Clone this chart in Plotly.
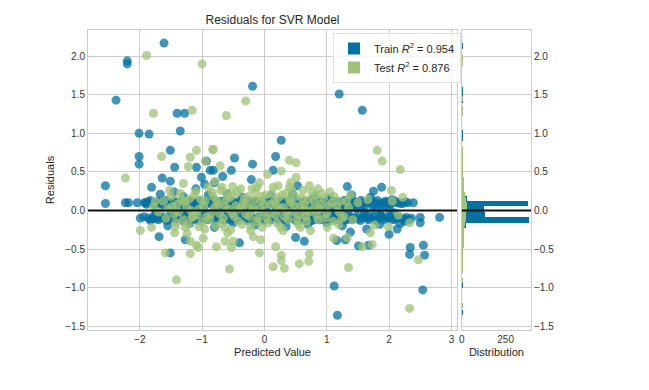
import numpy as np
import plotly.graph_objects as go

# ---------------- data ----------------
train_outliers = [
    (-1.61, 2.17), (-2.20, 1.94), (-2.20, 1.90), (-2.38, 1.43), (-1.40, 1.26), (-1.28, 1.26),
    (-1.35, 1.03), (-2.01, 1.00), (-1.85, 0.99), (-1.51, 0.78), (-2.01, 0.70), (-2.01, 0.60),
    (-1.44, 0.56), (-1.09, 0.56), (-0.93, 0.64), (-0.87, 0.52), (-2.55, 0.32), (-1.64, 0.42),
    (-1.51, 0.38), (-1.81, 0.30), (-1.01, 0.43), (-0.96, 0.34), (-2.55, 0.09), (-2.23, 0.10),
    (-2.18, 0.10), (-2.04, 0.10), (-1.91, 0.10), (-1.69, -0.34), (-1.51, -0.55), (-1.27, -0.38),
    (-0.19, 1.61), (0.27, 0.91), (-0.48, 0.68), (-0.19, 0.60), (0.18, 0.70), (0.14, 0.52),
    (-0.53, 0.52), (-0.82, 0.52), (-0.67, 0.44), (-0.21, 0.40), (0.53, 0.32), (-0.80, 0.36),
    (1.20, 1.51), (1.57, 1.30), (1.33, 0.31), (1.88, 0.30), (1.75, 0.25), (2.39, 0.10),
    (2.81, -0.09), (2.50, -0.09), (2.50, -0.16), (2.18, -0.17), (2.13, -0.24), (2.00, -0.31),
    (1.64, -0.24), (1.38, -0.28), (1.16, -0.39), (1.30, -0.38), (1.51, -0.46), (1.67, -0.45),
    (2.34, -0.48), (2.55, -0.45), (2.33, -0.57), (2.57, -0.58), (1.12, -0.98), (2.54, -1.03),
    (1.17, -1.36), (2.02, 0.10), (0.64, -0.40), (0.50, -0.35), (-0.40, -0.42),
    (-1.67, 0.21), (-1.45, 0.24), (-1.30, 0.18), (-1.10, 0.28), (-0.90, 0.20), (-0.60, 0.22),
    (-0.35, 0.17), (0.10, 0.19), (0.45, 0.22), (0.80, 0.18), (1.05, 0.16), (1.40, 0.20),
    (1.70, 0.17), (2.05, 0.14), (-1.55, -0.20), (-1.20, -0.17), (-0.80, -0.22), (-0.50, -0.16),
    (-0.15, -0.19), (0.35, -0.21), (0.70, -0.18), (1.00, -0.16), (1.25, -0.20), (1.85, -0.18),
    (2.25, -0.14),
]

train_band_upper = [
    (-1.92, 0.10), (-1.86, 0.11), (-1.80, 0.10), (-1.73, 0.09), (-1.67, 0.10), (-1.60, 0.12),
    (-1.54, 0.10), (-1.47, 0.10), (-1.41, 0.09), (-1.34, 0.11), (-1.28, 0.10), (-1.21, 0.10),
    (-1.15, 0.12), (-1.08, 0.09), (-1.02, 0.10), (-0.95, 0.11), (-0.89, 0.10), (-0.82, 0.10),
    (-0.76, 0.09), (-0.69, 0.12), (-0.63, 0.10), (-0.56, 0.10), (-0.50, 0.11), (-0.43, 0.09),
    (-0.37, 0.10), (-0.30, 0.10), (-0.24, 0.12), (-0.17, 0.10), (-0.11, 0.09), (-0.04, 0.10),
    (0.02, 0.11), (0.09, 0.10), (0.15, 0.10), (0.22, 0.09), (0.28, 0.12), (0.35, 0.10),
    (0.41, 0.10), (0.48, 0.11), (0.54, 0.09), (0.61, 0.10), (0.67, 0.10), (0.74, 0.12),
    (0.80, 0.10), (0.87, 0.09), (0.93, 0.10), (1.00, 0.11), (1.06, 0.10), (1.13, 0.10),
    (1.19, 0.09), (1.26, 0.12), (1.32, 0.10), (1.39, 0.10), (1.45, 0.11), (1.52, 0.09),
    (1.58, 0.10), (1.65, 0.10), (1.71, 0.12), (1.78, 0.10), (1.84, 0.09), (1.91, 0.10),
    (1.98, 0.11), (2.06, 0.10), (2.14, 0.10), (2.22, 0.09), (2.30, 0.10),
]

train_band_upper2 = [
    (-1.89, 0.08), (-1.83, 0.13), (-1.76, 0.07), (-1.70, 0.12), (-1.63, 0.08), (-1.57, 0.13),
    (-1.50, 0.07), (-1.44, 0.12), (-1.37, 0.08), (-1.31, 0.13), (-1.24, 0.07), (-1.18, 0.12),
    (-1.11, 0.08), (-1.05, 0.13), (-0.98, 0.07), (-0.92, 0.12), (-0.85, 0.08), (-0.79, 0.13),
    (-0.72, 0.07), (-0.66, 0.12), (-0.59, 0.08), (-0.53, 0.13), (-0.46, 0.07), (-0.40, 0.12),
    (-0.33, 0.08), (-0.27, 0.13), (-0.20, 0.07), (-0.14, 0.12), (-0.07, 0.08), (-0.01, 0.13),
    (0.05, 0.07), (0.12, 0.12), (0.18, 0.08), (0.25, 0.13), (0.31, 0.07), (0.38, 0.12),
    (0.44, 0.08), (0.51, 0.13), (0.57, 0.07), (0.64, 0.12), (0.70, 0.08), (0.77, 0.13),
    (0.83, 0.07), (0.90, 0.12), (0.96, 0.08), (1.03, 0.13), (1.09, 0.07), (1.16, 0.12),
    (1.22, 0.08), (1.29, 0.13), (1.35, 0.07), (1.42, 0.12), (1.48, 0.08), (1.55, 0.13),
    (1.61, 0.07), (1.68, 0.12), (1.74, 0.08), (1.81, 0.13), (1.87, 0.07), (1.94, 0.12),
    (2.02, 0.08), (2.10, 0.12), (2.18, 0.09), (2.26, 0.11),
]

train_band_lower = [
    (-1.99, -0.10), (-1.86, -0.10), (-1.80, -0.11), (-1.74, -0.10), (-1.67, -0.09), (-1.61, -0.10),
    (-1.54, -0.12), (-1.48, -0.10), (-1.41, -0.10), (-1.35, -0.09), (-1.28, -0.11), (-1.22, -0.10),
    (-1.15, -0.10), (-1.09, -0.12), (-1.02, -0.09), (-0.96, -0.10), (-0.89, -0.11), (-0.83, -0.10),
    (-0.76, -0.10), (-0.70, -0.09), (-0.63, -0.12), (-0.57, -0.10), (-0.50, -0.10), (-0.44, -0.11),
    (-0.37, -0.09), (-0.31, -0.10), (-0.24, -0.10), (-0.18, -0.12), (-0.11, -0.10), (-0.05, -0.09),
    (0.02, -0.10), (0.08, -0.11), (0.15, -0.10), (0.21, -0.10), (0.28, -0.09), (0.34, -0.12),
    (0.41, -0.10), (0.47, -0.10), (0.54, -0.11), (0.60, -0.09), (0.67, -0.10), (0.73, -0.10),
    (0.80, -0.12), (0.86, -0.10), (0.93, -0.09), (0.99, -0.10), (1.06, -0.11), (1.12, -0.10),
    (1.19, -0.10), (1.25, -0.09), (1.32, -0.12), (1.38, -0.10), (1.45, -0.10), (1.51, -0.11),
    (1.58, -0.09), (1.64, -0.10), (1.71, -0.10), (1.77, -0.12), (1.84, -0.10), (1.90, -0.09),
    (1.97, -0.10), (2.04, -0.11), (2.12, -0.10), (2.20, -0.10), (2.28, -0.09), (2.36, -0.10),
]

train_band_lower2 = [
    (-1.93, -0.08), (-1.83, -0.13), (-1.77, -0.07), (-1.70, -0.12), (-1.64, -0.08), (-1.57, -0.13),
    (-1.51, -0.07), (-1.44, -0.12), (-1.38, -0.08), (-1.31, -0.13), (-1.25, -0.07), (-1.18, -0.12),
    (-1.12, -0.08), (-1.05, -0.13), (-0.99, -0.07), (-0.92, -0.12), (-0.86, -0.08), (-0.79, -0.13),
    (-0.73, -0.07), (-0.66, -0.12), (-0.60, -0.08), (-0.53, -0.13), (-0.47, -0.07), (-0.40, -0.12),
    (-0.34, -0.08), (-0.27, -0.13), (-0.21, -0.07), (-0.14, -0.12), (-0.08, -0.08), (-0.01, -0.13),
    (0.05, -0.07), (0.11, -0.12), (0.18, -0.08), (0.24, -0.13), (0.31, -0.07), (0.37, -0.12),
    (0.44, -0.08), (0.50, -0.13), (0.57, -0.07), (0.63, -0.12), (0.70, -0.08), (0.76, -0.13),
    (0.83, -0.07), (0.89, -0.12), (0.96, -0.08), (1.02, -0.13), (1.09, -0.07), (1.15, -0.12),
    (1.22, -0.08), (1.28, -0.13), (1.35, -0.07), (1.41, -0.12), (1.48, -0.08), (1.54, -0.13),
    (1.61, -0.07), (1.67, -0.12), (1.74, -0.08), (1.80, -0.13), (1.87, -0.07), (1.93, -0.12),
    (2.00, -0.08), (2.08, -0.12), (2.16, -0.09), (2.24, -0.11), (2.32, -0.12),
]

train_band_middle = [
    (-1.62, 0.04), (-1.50, -0.03), (-1.38, 0.02), (-1.22, -0.05), (-1.10, 0.05), (-0.97, 0.00),
    (-0.86, -0.04), (-0.73, 0.03), (-0.60, -0.02), (-0.48, 0.05), (-0.36, -0.05), (-0.22, 0.01),
    (-0.10, 0.04), (0.05, -0.03), (0.18, 0.05), (0.30, -0.01), (0.44, 0.03), (0.57, -0.05),
    (0.70, 0.02), (0.83, 0.04), (0.96, -0.03), (1.09, 0.00), (1.22, 0.05), (1.35, -0.04),
    (1.48, 0.02), (1.60, -0.02), (1.74, 0.04), (1.87, -0.05), (2.00, 0.01), (-1.44, -0.06),
    (-1.16, 0.06), (-0.92, -0.06), (-0.66, 0.06), (-0.41, -0.06), (-0.16, 0.06), (0.11, -0.06),
    (0.37, 0.06), (0.63, -0.06), (0.89, 0.06), (1.15, -0.06), (1.41, 0.06), (1.67, -0.06),
    (1.93, 0.06), (-1.74, -0.03), (-1.30, 0.00), (-1.03, 0.03), (-0.79, -0.01), (-0.54, 0.02),
    (-0.29, -0.02), (-0.03, 0.00), (0.24, 0.02), (0.50, 0.00), (0.76, -0.02), (1.02, 0.03),
    (1.28, -0.01), (1.54, 0.03), (1.80, 0.00), (2.08, -0.03),
]

test_outliers = [
    (-1.89, 2.01), (-1.00, 1.90), (-1.78, 1.26), (-1.16, 1.30), (-1.09, 0.78), (-1.19, 0.69),
    (-1.65, 0.70), (-1.22, 0.57), (-0.95, 0.64), (-0.83, 0.79), (-2.23, 0.42), (-1.30, 0.35),
    (-0.30, 1.42), (-0.61, 1.23), (-0.82, 0.79), (-0.71, 0.58), (0.40, 0.65), (0.51, 0.62),
    (0.27, 0.51), (0.05, 0.47), (0.51, 0.43), (-0.08, 0.36), (0.22, 0.32), (0.72, 0.32),
    (0.42, 0.36), (-0.51, 0.31), (-0.79, 0.38), (1.81, 0.78), (1.89, 0.64), (2.18, 0.53),
    (2.04, 0.26), (2.22, 0.17), (2.33, -0.16), (1.99, -0.21), (1.77, -0.19), (1.70, -0.29),
    (1.33, -0.35), (1.73, -0.44), (1.57, -0.47), (2.47, -0.64), (1.35, -0.74), (2.33, -1.27),
    (1.19, -0.18), (-0.77, -0.47), (-0.56, -0.76), (-0.08, -0.55), (0.14, -0.73), (0.32, -0.75),
    (0.27, -0.65), (0.27, -0.58), (0.56, -0.69), (0.72, -0.56), (0.71, -0.66), (0.18, -0.47),
    (-0.06, -0.38), (-0.22, -0.26), (-0.18, -0.34), (-0.53, -0.48), (-0.63, -0.40), (-0.50, -0.40),
    (-0.59, -0.29), (1.01, -0.22), (1.11, -0.36), (-1.99, -0.26), (-1.81, -0.22), (-1.59, -0.55),
    (-1.41, -0.90), (-1.19, -0.56), (-1.44, -0.29), (-1.43, -0.21), (-1.27, -0.22), (-1.24, -0.30),
    (-1.19, -0.40), (-1.09, -0.45), (-1.06, -0.48), (-0.98, -0.36), (-1.16, -0.09), (-1.05, -0.21),
]

test_band = [
    (-1.78, 0.05), (-1.70, -0.02), (-1.75, 0.12),
    (-1.62, 0.12), (-1.55, 0.02), (-1.50, 0.18), (-1.45, -0.05), (-1.40, 0.08), (-1.35, 0.22),
    (-1.30, -0.12), (-1.25, 0.05), (-1.20, 0.15), (-1.15, -0.08), (-1.10, 0.25), (-1.05, 0.02),
    (-1.00, -0.15), (-0.95, 0.12), (-0.90, 0.30), (-0.86, -0.05), (-0.82, 0.18), (-0.78, -0.20),
    (-0.74, 0.08), (-0.70, 0.26), (-0.66, -0.10), (-0.62, 0.14), (-0.58, 0.02), (-0.54, -0.25),
    (-0.50, 0.20), (-0.46, 0.06), (-0.42, -0.14), (-0.38, 0.28), (-0.34, 0.10), (-0.30, -0.05),
    (-0.26, 0.18), (-0.22, -0.20), (-0.18, 0.04), (-0.14, 0.24), (-0.10, -0.10), (-0.06, 0.12),
    (-0.02, -0.02), (0.02, 0.20), (0.06, -0.16), (0.10, 0.08), (0.14, 0.30), (0.18, -0.06),
    (0.22, 0.16), (0.26, -0.22), (0.30, 0.04), (0.34, 0.22), (0.38, -0.12), (0.42, 0.10),
    (0.46, -0.02), (0.50, 0.18), (0.54, -0.18), (0.58, 0.06), (0.62, 0.26), (0.66, -0.08),
    (0.70, 0.14), (0.74, -0.26), (0.78, 0.02), (0.82, 0.20), (0.86, -0.12), (0.90, 0.08),
    (0.95, 0.16), (1.00, -0.04), (1.05, 0.24), (1.10, -0.14), (1.16, 0.06), (1.22, 0.12),
    (1.28, -0.08), (1.35, 0.04), (1.42, -0.12), (1.50, 0.10), (1.66, 0.14),
    (2.05, 0.12), (2.15, -0.06),
    (-1.58, -0.10), (-1.48, 0.05), (-1.38, -0.02), (-1.28, 0.12), (-1.18, 0.00), (-1.08, -0.06),
    (-0.98, 0.06), (-0.88, -0.12), (-0.80, 0.04), (-0.72, -0.04), (-0.64, 0.06), (-0.56, 0.16),
    (-0.48, -0.08), (-0.40, 0.02), (-0.32, 0.16), (-0.24, -0.08), (-0.16, 0.14), (-0.08, 0.02),
    (0.00, 0.08), (0.08, -0.04), (0.16, 0.12), (0.24, 0.02), (0.32, -0.08), (0.40, 0.14),
    (0.48, 0.06), (0.56, -0.06), (0.64, 0.08), (0.72, -0.02), (0.80, 0.12), (0.88, 0.02),
    (0.97, -0.10), (1.08, 0.10), (1.20, -0.02), (1.32, 0.12),
    (-1.52, 0.26), (-1.42, -0.16), (-1.33, 0.14), (-1.22, -0.18), (-1.12, 0.20), (-1.02, 0.14),
    (-0.93, -0.08), (-0.84, 0.24), (-0.76, 0.12), (-0.68, -0.16), (-0.60, 0.22), (-0.52, -0.04),
    (-0.44, 0.24), (-0.36, -0.18), (-0.28, 0.08), (-0.20, 0.28), (-0.12, -0.14), (-0.04, 0.18),
    (0.04, -0.10), (0.12, 0.22), (0.20, -0.16), (0.28, 0.20), (0.36, -0.02), (0.44, 0.26),
    (0.52, -0.12), (0.60, 0.16), (0.68, -0.14), (0.76, 0.24), (0.84, -0.06), (0.92, 0.22),
    (1.02, 0.06), (1.12, 0.18), (1.24, -0.10), (1.38, 0.20),
    (-0.96, -0.24), (-0.64, -0.22), (-0.36, 0.04), (-0.04, -0.22), (0.30, -0.26),
    (0.58, -0.22), (0.86, 0.28), (-0.20, 0.00), (0.20, 0.06), (0.66, 0.00), (-0.68, 0.30),
    (-0.12, 0.30), (0.40, 0.30),
]

# histogram (50 bins each, counts)
train_hist_range = [-1.36, 2.17]
train_hist_counts = [1, 0, 0, 0, 0, 3, 0, 0, 0, 0,
                     0, 2, 4, 5, 6, 10, 25, 384, 134, 128,
                     378, 30, 12, 8, 5, 4, 3, 4, 3, 2,
                     1, 0, 1, 3, 0, 0, 0, 3, 0, 1,
                     1, 1, 0, 0, 0, 0, 2, 0, 0, 1]
test_hist_range = [-1.27, 2.01]
test_hist_counts = [1, 0, 0, 0, 0, 1, 0, 2, 3, 3,
                    4, 3, 6, 6, 8, 12, 16, 22, 25, 28,
                    26, 22, 15, 12, 8, 6, 4, 4, 3, 3,
                    2, 3, 0, 0, 0, 0, 0, 0, 2, 1,
                    0, 1, 0, 0, 0, 0, 0, 0, 1, 1]

train_label = "Train <i>R</i><sup>2</sup> = 0.954"
test_label = "Test <i>R</i><sup>2</sup> = 0.876"
y_ticks = [-1.5, -1.0, -0.5, 0.0, 0.5, 1.0, 1.5, 2.0]
x_ticks = [-2, -1, 0, 1, 2, 3]
hist_ticks = [0, 250]

# ---------------- figure ----------------
BLUE = "#0272a2"
GREEN = "#9fc377"

train_pts = (train_band_upper + train_band_upper2 + train_band_lower + train_band_lower2
             + train_band_middle + train_outliers)
test_pts = test_band + test_outliers


def split(pts):
    return [p[0] for p in pts], [p[1] for p in pts]


tx, ty = split(train_pts)
sx, sy = split(test_pts)


def bins(rng, counts):
    edges = np.linspace(rng[0], rng[1], len(counts) + 1)
    return (edges[:-1] + edges[1:]) / 2, edges[1] - edges[0]


tr_c, tr_w = bins(train_hist_range, train_hist_counts)
te_c, te_w = bins(test_hist_range, test_hist_counts)

fig = go.Figure()
fig.add_trace(go.Scatter(x=tx, y=ty, mode="markers", showlegend=False,
                         marker=dict(color=BLUE, size=9, opacity=0.75, line=dict(width=0)),
                         xaxis="x", yaxis="y"))
fig.add_trace(go.Scatter(x=sx, y=sy, mode="markers", showlegend=False,
                         marker=dict(color=GREEN, size=9, opacity=0.75, line=dict(width=0)),
                         xaxis="x", yaxis="y"))
fig.add_trace(go.Bar(x=train_hist_counts, y=tr_c, width=tr_w, orientation="h",
                     marker=dict(color=BLUE, line=dict(width=0)), name=train_label,
                     xaxis="x2", yaxis="y2"))
fig.add_trace(go.Bar(x=test_hist_counts, y=te_c, width=te_w, orientation="h",
                     marker=dict(color=GREEN, line=dict(width=0)), name=test_label,
                     xaxis="x2", yaxis="y2"))

for xr in ["x domain", "x2 domain"]:
    fig.add_shape(type="line", xref=xr, x0=0, x1=1, yref="y", y0=0, y1=0,
                  line=dict(color="#111111", width=2), layer="above")

grid = "#cccccc"
axis_common = dict(showline=True, mirror=True, linecolor=grid, linewidth=1,
                   zeroline=False, ticks="", gridcolor=grid, gridwidth=1)

# page body has an 8px margin: figure is 8px smaller and margins shifted
fig.update_layout(
    width=641, height=382,
    margin=dict(l=80, r=118, t=22, b=60, autoexpand=False),
    paper_bgcolor="white", plot_bgcolor="white",
    font=dict(family="Liberation Sans, Arial, sans-serif", size=10, color="#333333"),
    title=dict(text="Residuals for SVR Model", xref="paper", x=0.4165, xanchor="center",
               yref="container", y=1 - 12 / 382, yanchor="middle",
               font=dict(size=12, color="#262626")),
    barmode="overlay", bargap=0,
    showlegend=True,
    legend=dict(x=0.553, y=0.99, xanchor="left", yanchor="top",
                bgcolor="rgba(255,255,255,0.8)", bordercolor="#e0e0e0", borderwidth=1,
                font=dict(size=11, color="#262626"), tracegroupgap=2),
    xaxis=dict(domain=[0, 0.833], range=[-2.83, 3.09], tickvals=x_ticks, showgrid=True,
               anchor="y", title=dict(text="Predicted Value", font=dict(size=11, color="#262626"), standoff=4),
               **axis_common),
    yaxis=dict(domain=[0, 1], range=[-1.55, 2.34], tickvals=y_ticks, tickformat=".1f", showgrid=True,
               anchor="x", title=dict(text="Residuals", font=dict(size=11, color="#262626"), standoff=8),
               **axis_common),
    xaxis2=dict(domain=[0.844, 1], range=[0, 395], tickvals=hist_ticks, showgrid=False, anchor="y2",
                title=dict(text="Distribution", font=dict(size=11, color="#262626"), standoff=4),
                **axis_common),
    yaxis2=dict(domain=[0, 1], range=[-1.55, 2.34], tickvals=y_ticks, tickformat=".1f", showgrid=True,
                anchor="x2", side="right", **axis_common),
)

fig.write_html("out.html")
